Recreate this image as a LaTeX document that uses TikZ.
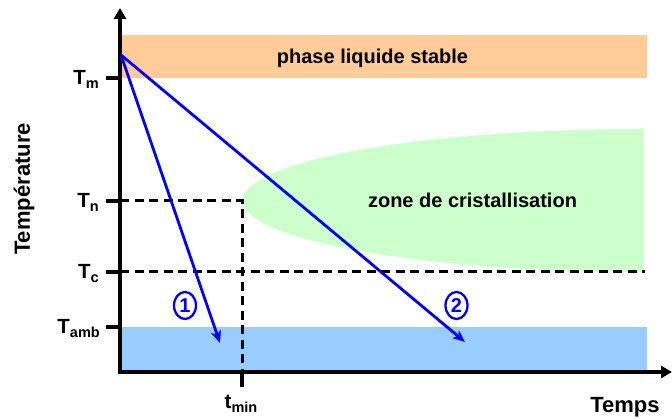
\documentclass[tikz,border=0pt]{standalone}
\usepackage{fontspec}
\setmainfont{Liberation Sans}
\usetikzlibrary{arrows.meta,shapes.geometric}
\definecolor{orangeband}{HTML}{FFCC99}
\definecolor{greenzone}{HTML}{CCFFCC}
\definecolor{blueband}{HTML}{99CCFF}
\definecolor{arrowblue}{HTML}{0000FF}
\newcommand{\lsub}[1]{\raisebox{-4pt}{\fontsize{14.5}{15}\selectfont #1}}
\begin{document}
\begin{tikzpicture}[x=1pt,y=-1pt,
  lbl/.style={font=\fontsize{20}{22}\selectfont\bfseries, inner sep=0pt},
  tlbl/.style={font=\fontsize{20.5}{22}\selectfont\bfseries, inner sep=0pt},
  biglbl/.style={font=\fontsize{22}{24}\selectfont\bfseries, inner sep=0pt},
  axisline/.style={line width=4pt, -{Triangle[length=11pt,width=12pt]}},
  tickmark/.style={line width=3.5pt},
  guide/.style={line width=3pt, dash pattern=on 9pt off 5.5pt},
  coolarrow/.style={line width=2.8pt, draw=arrowblue, -{Stealth[length=12pt,width=10pt,inset=3pt]}},
  circnum/.style={ellipse, draw=arrowblue, line width=2.3pt, text=arrowblue,
    font=\fontsize{20}{20}\selectfont\bfseries, minimum width=22pt, minimum height=27pt, inner sep=0pt}]
\useasboundingbox (0,0) rectangle (672,419);
% coordinates
\coordinate (O) at (120,372);
\coordinate (Ytop) at (120,8);
\coordinate (Xend) at (672,372);
\coordinate (S) at (121,55);
\coordinate (E1) at (220,343);
\coordinate (E2) at (465,342);
\coordinate (TnL) at (120,201);
\coordinate (Corner) at (242,201);
\coordinate (TminB) at (242,372);
\coordinate (TcL) at (120,272);
\coordinate (TcR) at (645,272);
% bands
\fill[orangeband] (120,35) rectangle (647,78);
\fill[blueband] (120,327) rectangle (647,370);
\begin{scope}
  \clip (200,100) rectangle (644,300);
  \fill[greenzone] (644,200.5) ellipse [x radius=401, y radius=71.5];
\end{scope}
% guides
\draw[guide] (TnL) -- (Corner) -- (TminB);
\draw[guide] (TcL) -- (TcR);
% ticks
\draw[tickmark] (106,78) -- (120,78);
\draw[tickmark] (106,201) -- (120,201);
\draw[tickmark] (106,272) -- (120,272);
\draw[tickmark] (106,327) -- (120,327);
\draw[tickmark] (242,372) -- (242,387);
% axes
\draw[axisline] (120,374) -- (Ytop);
\draw[axisline] (118,372) -- (Xend);
% cooling paths
\draw[coolarrow] (S) -- (E1);
\draw[coolarrow] (S) -- (E2);
\node[circnum] (n1) at (185,305.5) {1};
\node[circnum] (n2) at (456.5,305.5) {2};
% texts
\node[lbl, anchor=base] (liq) at (372.5,64) {phase liquide stable};
\node[lbl, anchor=base] (cris) at (472.5,208) {zone de cristallisation};
\node[tlbl, anchor=base east] (Tm) at (99,85) {T\lsub{m}};
\node[tlbl, anchor=base east] (Tn) at (99,208) {T\lsub{n}};
\node[tlbl, anchor=base east] (Tc) at (99,279) {T\lsub{c}};
\node[tlbl, anchor=base east] (Tamb) at (100,334) {T\lsub{amb}};
\node[tlbl, anchor=base] (tmin) at (241,409) {t\lsub{min}};
\node[biglbl, anchor=base] (temps) at (625,413) {Temps};
\node[biglbl, rotate=90] (temp) at (24,189) {Température};
\end{tikzpicture}
\end{document}
